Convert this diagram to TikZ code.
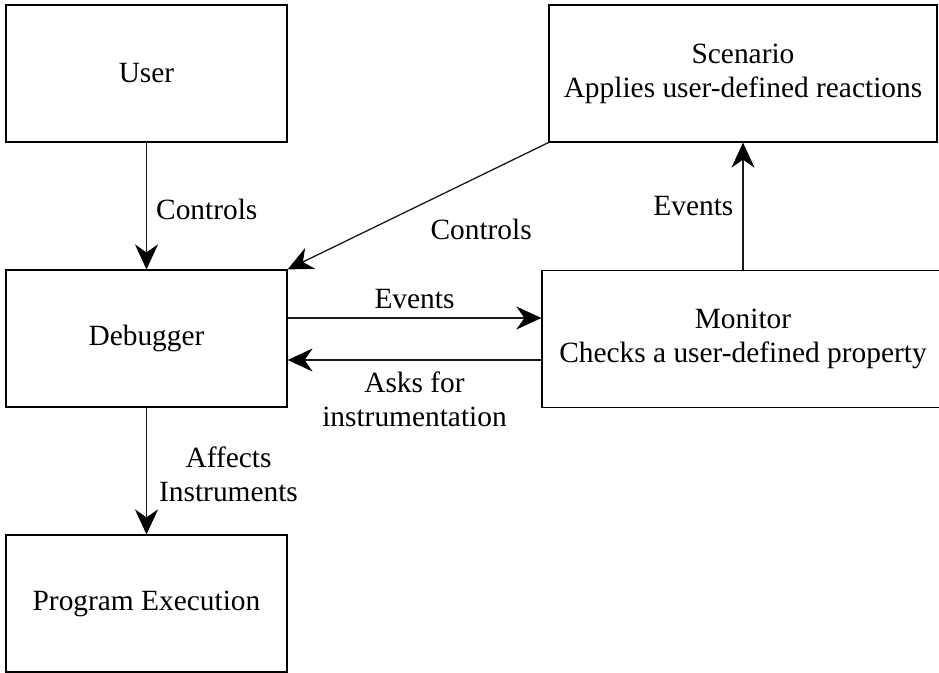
\documentclass[tikz,border=0pt]{standalone}
\usepackage{fontspec}
\setmainfont{Liberation Serif}
\usetikzlibrary{arrows.meta}
\tikzset{
  box/.style={draw=black, line width=1.2bp, rectangle, inner sep=0pt, align=center},
  arr/.style={draw=black!90, line width=1.3bp, -{Stealth[length=25bp, width=23bp, inset=8bp, color=black]}},
  lbl/.style={inner sep=3bp, align=center, text=black},
}
\begin{document}
\begin{tikzpicture}[x=1bp, y=-1bp, font=\fontsize{29.5}{34}\selectfont]
\useasboundingbox (0,0) rectangle (939,673);
\node[box, minimum width=281bp, minimum height=137bp] (user) at (146.5,73.5) {User};
\node[box, minimum width=281bp, minimum height=137bp] (debugger) at (146.5,338.5) {Debugger};
\node[box, minimum width=281bp, minimum height=137bp] (program) at (146.5,603.5) {Program Execution};
\node[box, minimum width=388bp, minimum height=137bp] (scenario) at (743,73.5) {Scenario\\Applies user-defined reactions};
\node[box, minimum width=402bp, minimum height=137bp] (monitor) at (743,339) {Monitor\\Checks a user-defined property};

\draw[arr] (user.south) -- node[lbl, right, xshift=6bp, yshift=-3bp] (l1) {Controls} (debugger.north);
\draw[arr] (scenario.south west) -- node[lbl, pos=0.3, xshift=11bp, yshift=-49bp] (l2) {Controls} (debugger.north east);
\draw[arr] ([yshift=20.5bp]debugger.east) -- node[lbl, above, yshift=6bp] (l3) {Events} ([yshift=20.5bp]debugger.east -| monitor.west);
\draw[arr] ([yshift=-21bp]monitor.west) -- node[lbl, below, yshift=-8bp] (l4) {Asks for\\instrumentation} ([yshift=-21bp]monitor.west -| debugger.east);
\draw[arr] (debugger.south) -- node[lbl, right, xshift=9bp, yshift=-3bp] (l5) {Affects\\Instruments} (program.north);
\draw[arr] (monitor.north) -- node[lbl, left, xshift=-6bp] (l6) {Events} (scenario.south);
\end{tikzpicture}
\end{document}
